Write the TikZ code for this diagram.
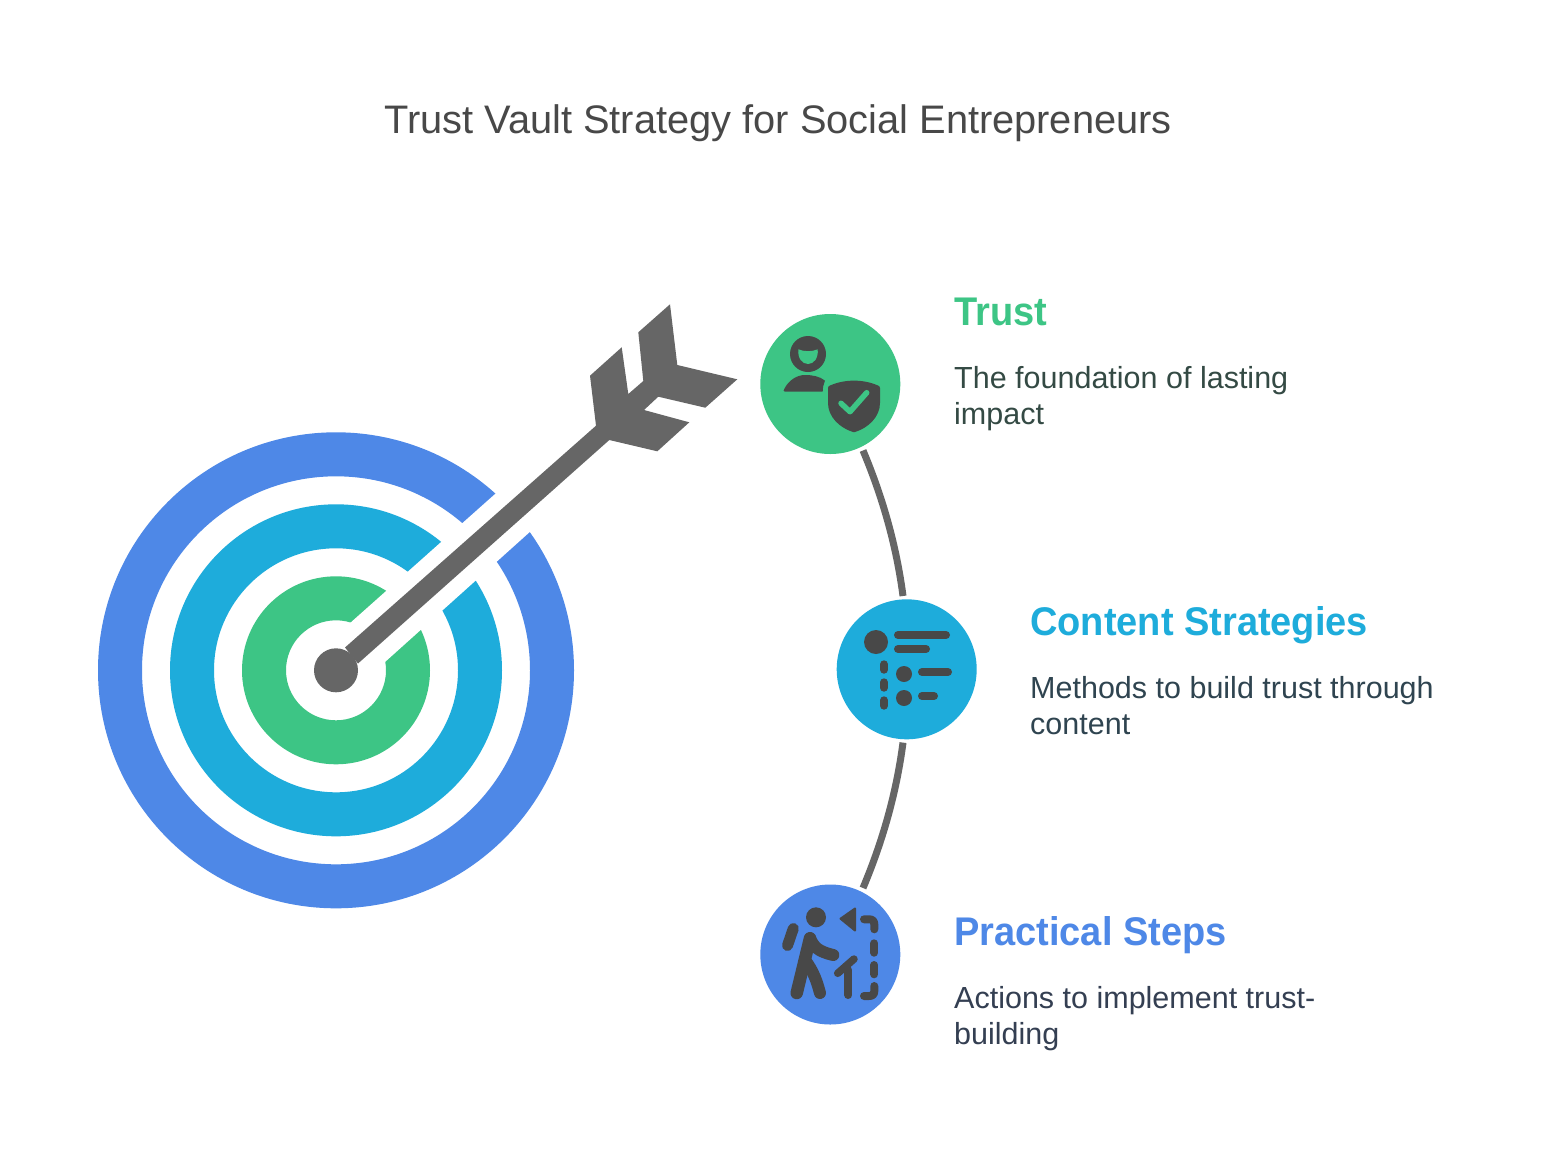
\documentclass[tikz,border=0pt]{standalone}
\usepackage{fontspec}
\setmainfont{Liberation Sans}
\newfontfamily\headfont[FakeStretch=0.95]{Liberation Sans}
\definecolor{cgreen}{HTML}{3DC585}
\definecolor{ccyan}{HTML}{1EACDB}
\definecolor{cblue}{HTML}{4E88E7}
\definecolor{cgray}{HTML}{666666}
\definecolor{cicon}{HTML}{484848}
\definecolor{ctxtA}{HTML}{344A44}
\definecolor{ctxtB}{HTML}{2F4450}
\definecolor{ctxtC}{HTML}{343F52}
\tikzset{
  hub/.style={circle,minimum size=140pt,inner sep=0pt,outer sep=0pt,fill=#1},
  ringb/.style={fill=#1,even odd rule},
  heading/.style={anchor=base west,inner sep=0pt,font=\headfont\fontsize{40}{40}\selectfont\bfseries,text=#1},
  bodytxt/.style={anchor=base west,inner sep=0pt,font=\fontsize{30.5}{30.5}\selectfont,text=#1},
  conn/.style={draw=cgray,line width=7pt},
  ic/.style={draw=cicon,line cap=round,line join=round,line width=#1},
  ic/.default=8pt
}
\begin{document}
\begin{tikzpicture}[x=1pt,y=-1pt]
\useasboundingbox (0,0) rectangle (1556,1160);
\fill[white] (0,0) rectangle (1556,1160);
\node[anchor=base,inner sep=0pt,font=\fontsize{39.8}{39.8}\selectfont,text=cicon] (title) at (778,133) {Trust Vault Strategy for Social Entrepreneurs};
% target
\coordinate (tc) at (336,670.3);
\fill[ringb=cblue] (tc) circle[radius=238] (tc) circle[radius=194];
\fill[ringb=ccyan] (tc) circle[radius=166] (tc) circle[radius=122];
\fill[ringb=cgreen] (tc) circle[radius=94] (tc) circle[radius=50];
\fill[white] (340,632) -- (640,365) -- (640,433) -- (375,671) -- cycle;
% arrow
\fill[cgray] (tc) circle[radius=22];
\fill[cgray] (345,647.5) -- (596,425.7) -- (590,375.7) -- (621.7,347.3) -- (628.3,394) -- (643.3,381) -- (638.3,332.3) -- (670,304.3) -- (677.3,365) -- (737.3,379.3) -- (705.3,407.7) -- (658.3,396.7) -- (644,410) -- (689.3,422.3) -- (657.3,451.3) -- (609.3,440) -- (358,663.5) -- cycle;
% hubs
\node[hub=cgreen] (trust) at (830.3,384) {};
\node[hub=ccyan] (content) at (906.7,669.3) {};
\node[hub=cblue] (steps) at (830.3,954.5) {};
% connectors
\coordinate (a1) at ([shift={(32.7,66.5)}]trust.center);
\coordinate (a2) at ([shift={(-3.7,-73.3)}]content.center);
\coordinate (a3) at ([shift={(-3.7,73.3)}]content.center);
\coordinate (a4) at ([shift={(32.7,-66.5)}]steps.center);
\draw[conn] (a1) .. controls +(19.7,46.9) and +(-6.6,-50.4) .. (a2);
\draw[conn] (a3) .. controls +(-6.6,50.4) and +(19.7,-46.9) .. (a4);
% trust icon
\fill[cicon] (808,354) circle[radius=18];
\fill[cgreen] (798.3,349.3) .. controls (804,351.8) and (812,351.8) .. (817.7,349.3) .. controls (818.5,358) and (814,364) .. (808,364) .. controls (802,364) and (797.5,358) .. (798.3,349.3) -- cycle;
\fill[cicon] (785,391.7) .. controls (783,391.7) and (783.5,390) .. (784.5,388.5) .. controls (789,380) and (797,375) .. (805,375) .. controls (813,375) and (820,376.5) .. (825,380.7) .. controls (823.5,384) and (822.7,387.5) .. (822.7,391.7) -- cycle;
\fill[cicon] (828,388) .. controls (828,386.5) and (829,386) .. (830,385.5) .. controls (845,379) and (863,379) .. (878,385.5) .. controls (879,386) and (880,386.5) .. (880,388) -- (880,403) .. controls (880,417) and (868,428) .. (855,432) .. controls (854.3,432.2) and (853.7,432.2) .. (853,432) .. controls (840,428) and (828,417) .. (828,403) -- cycle;
\draw[draw=cgreen,line cap=round,line join=round,line width=5.5pt] (841,403.3) -- (850,411.7) -- (866.7,392.7);
% content icon
\fill[cicon] (876,642) circle[radius=12];
\fill[cicon] (904,674) circle[radius=8];
\fill[cicon] (904,698) circle[radius=8];
\draw[ic] (898,635) -- (946,635);
\draw[ic] (898,649) -- (926,649);
\draw[ic] (922,672) -- (948,672);
\draw[ic] (922,696) -- (934,696);
\draw[ic] (884,664.3) -- (884,669.7);
\draw[ic] (884,682.3) -- (884,687.7);
\draw[ic] (884,700.3) -- (884,705.7);
% steps icon
\fill[cicon] (816,917.3) circle[radius=10];
\draw[ic=11pt] (793.3,928.5) -- (787.5,945.5);
\draw[ic=12.5pt] (810,938.3) -- (796.7,993);
\draw[ic=12pt] (810,938.3) .. controls (814,947) and (818,951.5) .. (833.3,955);
\draw[ic=12pt] (805,960) .. controls (814,972) and (817,982) .. (820,993);
\draw[ic] (848.3,970) -- (848.3,995);
\draw[ic=7.5pt] (837.7,973.3) -- (854,959);
\fill[cicon,draw=cicon,line width=2pt,line join=round] (840.5,918.7) -- (855,908.5) -- (855,930.5) -- cycle;
\draw[ic] (864,919.3) -- (869,919.3) .. controls (872.5,919.3) and (874.3,921) .. (874.3,924.5) -- (874.3,929.3);
\draw[ic] (874.3,943.3) -- (874.3,952.7);
\draw[ic] (874.3,965) -- (874.3,974.3);
\draw[ic] (874.3,986) -- (874.3,991) .. controls (874.3,994.5) and (872.5,996) .. (869,996) -- (864,996);
% text
\node[heading=cgreen] (h1) at (954,325) {Trust};
\node[bodytxt=ctxtA] (b1a) at (954,388) {The foundation of lasting};
\node[bodytxt=ctxtA] (b1b) at (954,424) {impact};
\node[heading=ccyan] (h2) at (1030,635) {Content Strategies};
\node[bodytxt=ctxtB] (b2a) at (1030,698) {Methods to build trust through};
\node[bodytxt=ctxtB] (b2b) at (1030,734) {content};
\node[heading=cblue] (h3) at (954,945) {Practical Steps};
\node[bodytxt=ctxtC] (b3a) at (954,1008) {Actions to implement trust-};
\node[bodytxt=ctxtC] (b3b) at (954,1044) {building};
\end{tikzpicture}
\end{document}
